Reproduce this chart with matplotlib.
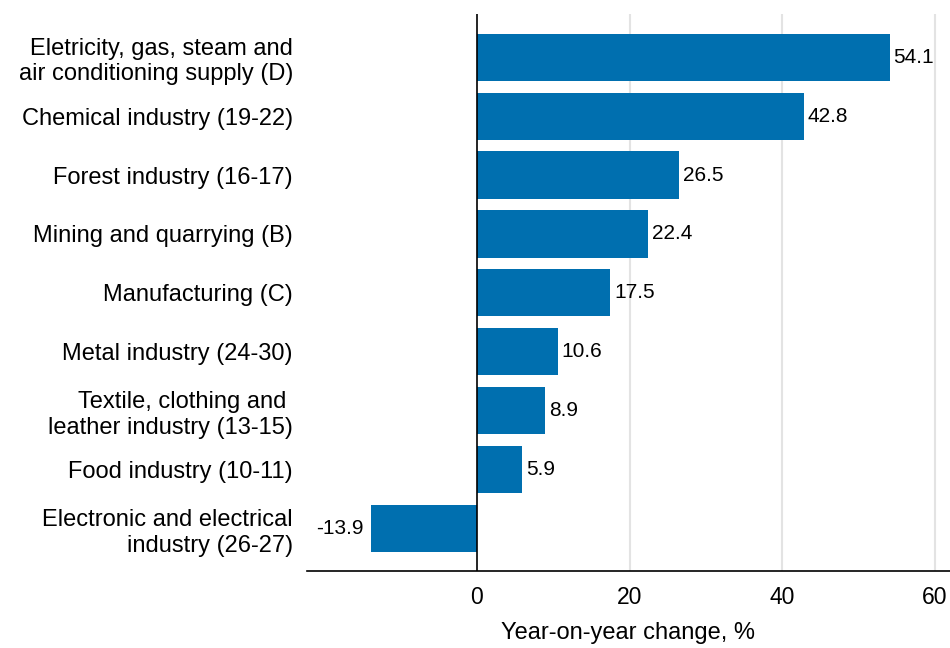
import matplotlib.pyplot as plt

plt.rcParams['font.family'] = ['Liberation Sans', 'DejaVu Sans']

categories = [
    'Eletricity, gas, steam and\nair conditioning supply (D)',
    'Chemical industry (19-22)',
    'Forest industry (16-17)',
    'Mining and quarrying (B)',
    'Manufacturing (C)',
    'Metal industry (24-30)',
    'Textile, clothing and \nleather industry (13-15)',
    'Food industry (10-11)',
    'Electronic and electrical\nindustry (26-27)',
]
values = [54.1, 42.8, 26.5, 22.4, 17.5, 10.6, 8.9, 5.9, -13.9]
xticks = [0, 20, 40, 60]

BAR_COLOR = '#006faf'
LABEL_SIZE = 17

fig = plt.figure(figsize=(9.5, 6.48), dpi=100)
ax = fig.add_axes([0.323, 0.119, 0.677, 0.859])

pos = list(range(len(values)))
ax.barh(pos, values, height=0.8, color=BAR_COLOR, zorder=2)

# value labels next to bar ends
for y, v in zip(pos, values):
    if v >= 0:
        ax.text(v + 0.5, y, f'{v:.1f}', va='center', ha='left', fontsize=15)
    else:
        ax.text(v - 1.0, y, f'{v:.1f}', va='center', ha='right', fontsize=15)

ax.set_ylim(len(values) - 1 + 0.72, -0.73)
ax.set_xlim(-22.3, 62)
ax.set_yticks(pos)
ax.set_yticklabels(categories, fontsize=LABEL_SIZE, multialignment='right',
                   linespacing=1.22)
ax.set_xticks(xticks)
ax.set_xticklabels([str(t) for t in xticks], fontsize=16.5)
ax.tick_params(axis='y', length=0, pad=10)
ax.tick_params(axis='x', length=0, pad=11)

ax.axvline(0, color='black', lw=1.2, zorder=3)
for t in xticks[1:]:
    ax.axvline(t, color='#e3e3e3', lw=1.5, zorder=1)

for s in ['left', 'right', 'top']:
    ax.spines[s].set_visible(False)
ax.spines['bottom'].set_color('black')
ax.spines['bottom'].set_linewidth(1.2)

ax.set_xlabel('Year-on-year change, %', fontsize=17, labelpad=9)

fig.savefig('out.png', dpi=100)
